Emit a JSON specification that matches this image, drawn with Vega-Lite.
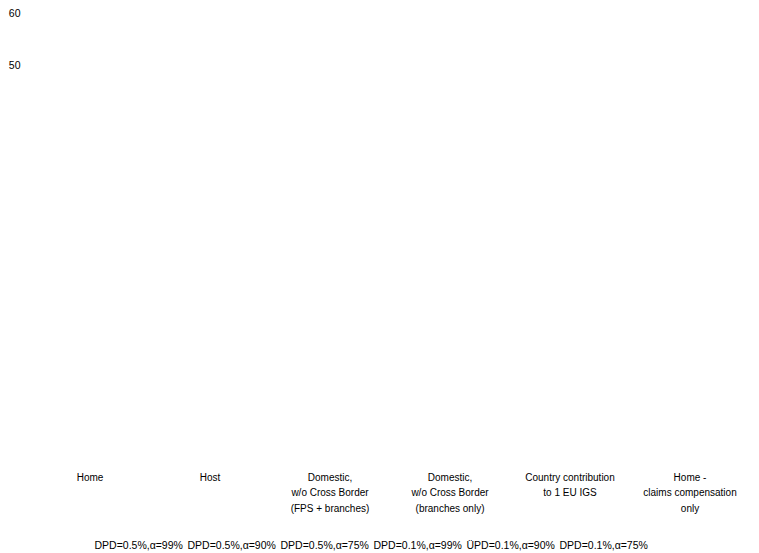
{
  "$schema": "https://vega.github.io/schema/vega-lite/v6.json",
  "width": 720,
  "height": 453,
  "autosize": {"type": "none"},
  "padding": {"left": 30, "top": 13, "right": 9, "bottom": 87},
  "background": "white",
  "config": {
    "view": {"stroke": null},
    "font": "Liberation Sans",
    "axis": {"labelFont": "Liberation Sans", "labelColor": "#000000", "labelFontSize": 10},
    "legend": {"labelFont": "Liberation Sans", "labelColor": "#000000", "labelFontSize": 10.5}
  },
  "data": {
    "values": [
      {"category": "Home", "series": "DPD=0.5%,α=99%", "value": null},
      {"category": "Home", "series": "DPD=0.5%,α=90%", "value": null},
      {"category": "Home", "series": "DPD=0.5%,α=75%", "value": null},
      {"category": "Home", "series": "DPD=0.1%,α=99%", "value": null},
      {"category": "Home", "series": "ÜPD=0.1%,α=90%", "value": null},
      {"category": "Home", "series": "DPD=0.1%,α=75%", "value": null}
    ]
  },
  "mark": {"type": "bar", "opacity": 0},
  "encoding": {
    "x": {
      "field": "category",
      "type": "nominal",
      "scale": {"domain": ["Home", "Host", "Domestic,|w/o Cross Border|(FPS + branches)", "Domestic,|w/o Cross Border|(branches only)", "Country contribution|to 1 EU IGS", "Home -|claims compensation|only"], "paddingInner": 0.2, "paddingOuter": 0.1},
      "axis": {"title": null, "labelAngle": 0, "ticks": false, "domain": false, "labelPadding": 6, "labelLineHeight": 15.5, "labelExpr": "split(datum.label, '|')", "labelLimit": 200}
    },
    "xOffset": {"field": "series", "type": "nominal"},
    "y": {
      "field": "value",
      "type": "quantitative",
      "scale": {"domain": [-25.5, 60], "nice": false, "zero": false},
      "axis": {"title": null, "values": [50, 60], "ticks": false, "domain": false, "grid": false, "labelPadding": 10, "labelFontSize": 10.5}
    },
    "color": {
      "field": "series",
      "type": "nominal",
      "scale": {"domain": ["DPD=0.5%,α=99%", "DPD=0.5%,α=90%", "DPD=0.5%,α=75%", "DPD=0.1%,α=99%", "ÜPD=0.1%,α=90%", "DPD=0.1%,α=75%"], "range": ["#1f4e79", "#2e75b6", "#9dc3e6", "#833c0b", "#c55a11", "#f4b183"]},
      "legend": {"title": null, "orient": "none", "direction": "horizontal", "legendX": 63, "legendY": 528, "symbolSize": 0, "symbolOpacity": 0, "symbolStrokeWidth": 0, "labelOffset": -9, "columnPadding": 3, "labelLimit": 200}
    }
  }
}
